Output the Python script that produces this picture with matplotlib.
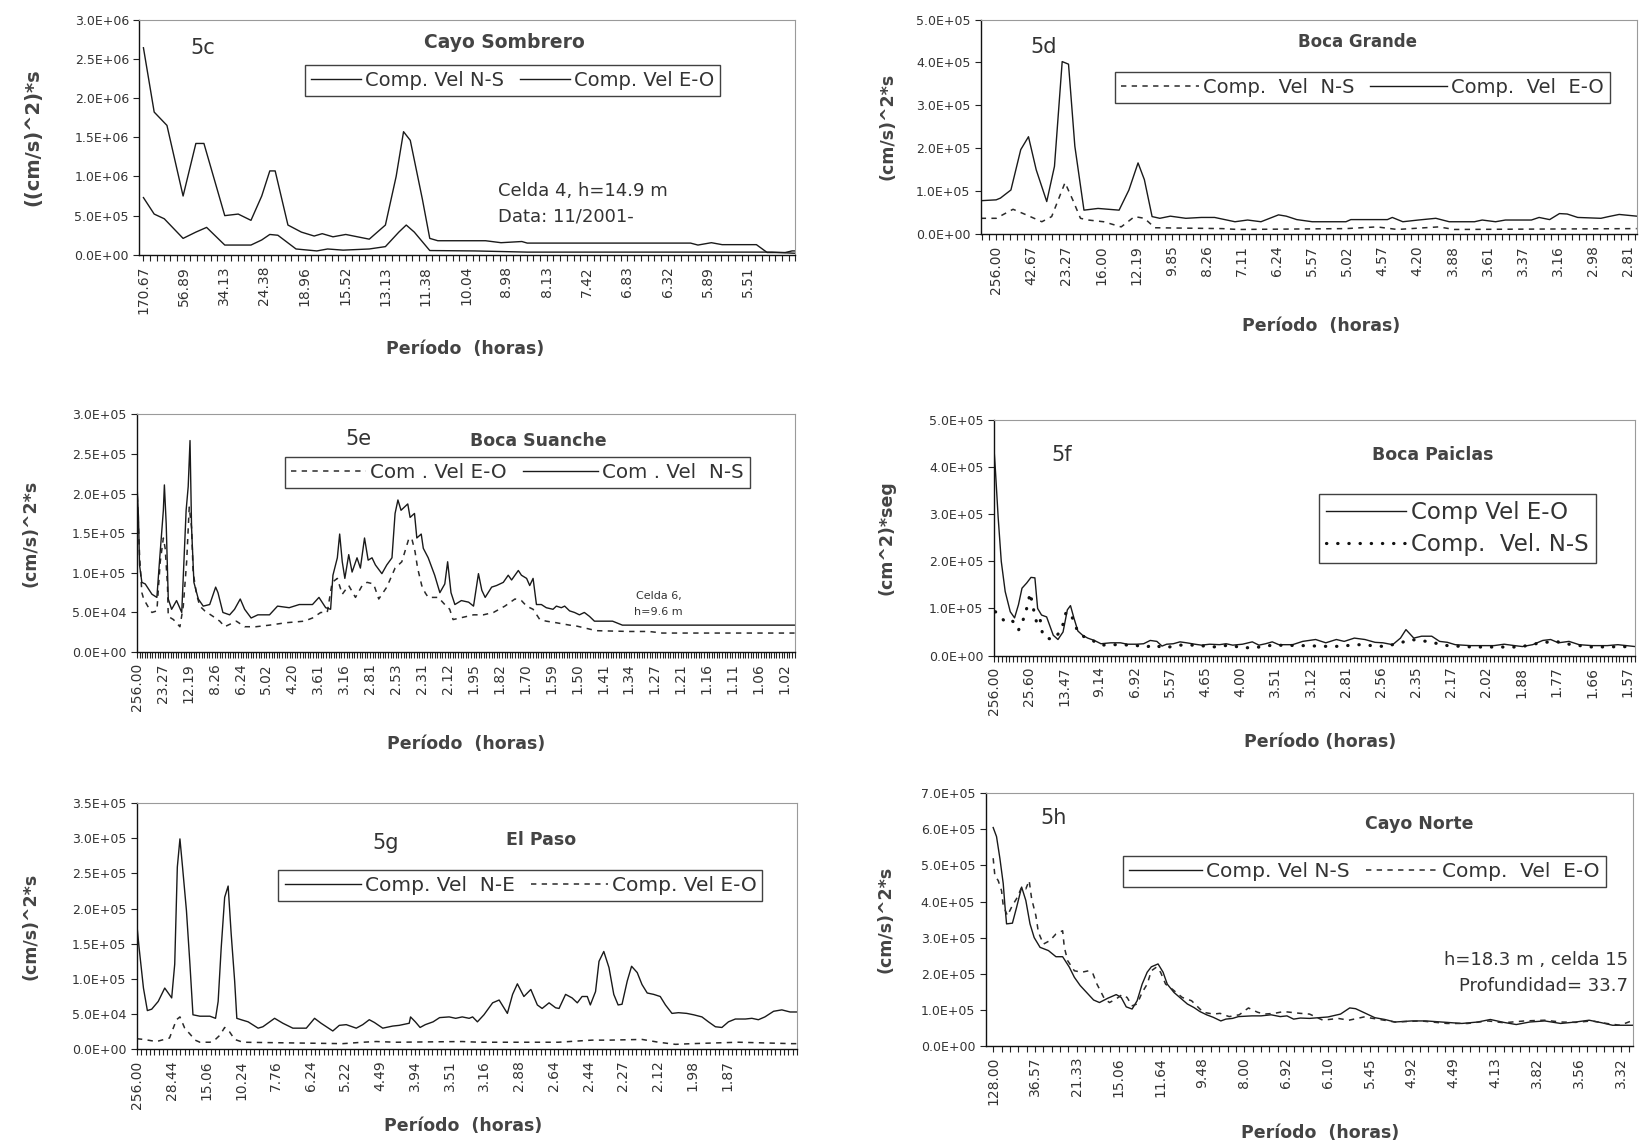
import numpy as np
import matplotlib
matplotlib.use('Agg')
import matplotlib.pyplot as plt
from matplotlib.ticker import MultipleLocator, FixedLocator

plt.rcParams['font.family'] = ['DejaVu Sans']
TXT = '#333333'

# ---------------- 5c  Cayo Sombrero  (values in 1e6, x = harmonic number k)
lab_5c = ['170.67', '56.89', '34.13', '24.38', '18.96', '15.52', '13.13', '11.38',
          '10.04', '8.98', '8.13', '7.42', '6.83', '6.32', '5.89', '5.51']
k_ns_5c = [3, 4.6, 6.5, 8.9, 10.8, 12.0, 15.1, 17.1, 19.0, 20.6, 21.8, 22.6, 24.5, 26.5,
           28.4, 29.6, 31.2, 33.1, 36.6, 39.0, 40.6, 41.7, 42.7, 44.5, 45.6, 46.8, 53.9,
           56.2, 59.3, 60.1, 84.4, 85.5, 87.5, 89.1, 94.2, 95.8, 98.5, 99.5, 100]
v_ns_5c = [2.64, 1.82, 1.65, 0.75, 1.42, 1.42, 0.50, 0.52, 0.44, 0.75, 1.07, 1.07, 0.38, 0.29,
           0.24, 0.27, 0.23, 0.26, 0.20, 0.38, 1.00, 1.57, 1.46, 0.71, 0.21, 0.18, 0.18,
           0.155, 0.17, 0.15, 0.15, 0.125, 0.155, 0.13, 0.13, 0.03, 0.03, 0.05, 0.05]
k_eo_5c = [3, 4.6, 6.1, 8.9, 10.8, 12.4, 15.1, 19.0, 20.6, 21.8, 23.0, 25.7, 28.8, 30.4,
           32.7, 36.6, 39.0, 41.0, 42.1, 43.3, 45.6, 52.3, 60.1, 96.5, 100]
v_eo_5c = [0.73, 0.52, 0.46, 0.21, 0.29, 0.35, 0.125, 0.125, 0.19, 0.26, 0.25, 0.075, 0.05, 0.075,
           0.06, 0.075, 0.105, 0.29, 0.38, 0.29, 0.055, 0.05, 0.035, 0.035, 0.02]

# ---------------- 5d  Boca Grande  (values in 1e5)
lab_5d = ['256.00', '42.67', '23.27', '16.00', '12.19', '9.85', '8.26', '7.11', '6.24', '5.57',
          '5.02', '4.57', '4.20', '3.88', '3.61', '3.37', '3.16', '2.98', '2.81']
k_eo_5d = [-1.2, 1, 1.6, 3.1, 4.5, 5.6, 6.7, 8.2, 9.3, 10.4, 11.3, 12.2, 13.5, 15.5, 18.5, 19.9,
           21.2, 22.1, 23.2, 24.3, 25.8, 28.0, 30.2, 32.1, 35.0, 36.8, 38.7, 41.2, 42.3, 43.8,
           46.0, 50.8, 51.5, 56.7, 57.4, 58.9, 61.1, 63.6, 65.5, 69.1, 70.2, 72.1, 73.5, 77.2,
           78.3, 79.8, 81.2, 82.3, 83.8, 87.1, 88.2, 89.7, 92.2]
v_eo_5d = [0.78, 0.80, 0.84, 1.03, 1.97, 2.27, 1.50, 0.76, 1.58, 4.02, 3.96, 2.05, 0.56, 0.60, 0.56, 1.03,
           1.66, 1.27, 0.41, 0.37, 0.42, 0.37, 0.39, 0.39, 0.29, 0.33, 0.29, 0.45, 0.42, 0.34,
           0.29, 0.29, 0.34, 0.34, 0.39, 0.29, 0.33, 0.37, 0.29, 0.29, 0.33, 0.29, 0.33, 0.33,
           0.39, 0.34, 0.48, 0.47, 0.39, 0.37, 0.41, 0.46, 0.42]
k_ns_5d = [-1.2, 1, 3.4, 5.3, 7.5, 8.9, 10.8, 11.9, 13.0, 14.1, 16.3, 18.8, 20.7, 22.1, 23.6, 33.2,
           35.4, 50.8, 55.2, 58.1, 64.0, 66.2, 92.2]
v_ns_5d = [0.37, 0.37, 0.58, 0.45, 0.29, 0.41, 1.20, 0.80, 0.37, 0.33, 0.29, 0.17, 0.41, 0.37, 0.15, 0.13,
           0.11, 0.13, 0.17, 0.11, 0.17, 0.11, 0.13]

# ---------------- 5e  Boca Suanche  (values in 1e5)
lab_5e = ['256.00', '23.27', '12.19', '8.26', '6.24', '5.02', '4.20', '3.61', '3.16', '2.81',
          '2.53', '2.31', '2.12', '1.95', '1.82', '1.70', '1.59', '1.50', '1.41', '1.34',
          '1.27', '1.21', '1.16', '1.11', '1.06', '1.02']
k_ns_5e = [1, 1.6, 2.0, 2.9, 4.2, 6.8, 8.7, 9.7, 11.2, 11.6, 12.3, 13.1, 14.4, 16.3, 18.3, 20.0,
           20.8, 21.5, 22.1, 23.0, 24.7, 26.6, 29.1, 31.4, 32.3, 34.2, 36.8, 38.7, 40.9, 42.6,
           45.1, 47.7, 52.2, 55.3, 59.8, 63.7, 68.8, 71.3, 73.9, 75.8, 76.7, 78.4, 79.3, 80.3,
           81.3, 82.8, 84.1, 86.0, 87.3, 88.9, 90.3, 91.8, 93.1, 95.6, 97.5, 99.5, 100.7, 101.8,
           103.0, 104.3, 105.6, 106.5, 108.2, 109.1, 110.8, 111.6, 113.5, 116.0, 118.0, 119.9,
           121.0, 122.3, 123.8, 126.3, 129.1, 131.0, 132.9, 134.2, 135.5, 138.0, 139.9, 142.5,
           144.4, 145.7, 148.3, 149.5, 151.5, 152.7, 154.0, 155.3, 157.2, 159.1, 161.7, 163.0,
           164.9, 166.2, 168.1, 170.0, 171.9, 173.8, 175.8, 177.7, 184.7, 188.5, 255]
v_ns_5e = [2.13, 1.70, 1.10, 0.88, 0.86, 0.73, 0.69, 1.14, 1.79, 2.11, 1.62, 0.67, 0.54, 0.65,
           0.50, 1.79, 2.09, 2.67, 1.57, 0.88, 0.67, 0.58, 0.60, 0.82, 0.75, 0.50, 0.47, 0.54,
           0.67, 0.54, 0.43, 0.47, 0.47, 0.58, 0.56, 0.60, 0.60, 0.69, 0.56, 0.54, 0.97, 1.19,
           1.49, 1.14, 0.93, 1.23, 1.01, 1.19, 1.06, 1.44, 1.16, 1.19, 1.10, 0.99, 1.10, 1.19,
           1.75, 1.92, 1.79, 1.83, 1.87, 1.70, 1.75, 1.44, 1.49, 1.31, 1.19, 0.97, 0.75, 0.86,
           1.14, 0.75, 0.60, 0.65, 0.63, 0.58, 0.99, 0.78, 0.69, 0.82, 0.84, 0.88, 0.97, 0.91,
           1.03, 0.97, 0.93, 0.84, 0.93, 0.60, 0.60, 0.56, 0.54, 0.58, 0.56, 0.58, 0.52, 0.50,
           0.47, 0.50, 0.45, 0.39, 0.39, 0.34, 0.34]
k_eo_5e = [1, 1.6, 2.0, 2.9, 3.6, 5.5, 6.8, 8.7, 10.0, 11.2, 11.9, 12.8, 13.1, 15.1, 17.6, 18.9,
           20.2, 21.2, 22.1, 22.7, 24.0, 25.3, 27.2, 30.4, 33.0, 34.9, 39.4, 42.6, 47.0, 52.2,
           58.5, 65.6, 68.8, 72.0, 74.5, 76.4, 78.4, 80.3, 82.8, 85.4, 88.0, 89.9, 92.4, 94.4,
           97.5, 100.7, 103.3, 105.9, 107.1, 108.4, 109.4, 111.0, 112.3, 113.5, 117.4, 119.9,
           121.8, 123.1, 128.4, 131.0, 134.8, 138.7, 143.1, 147.0, 149.5, 151.5, 154.0, 156.6,
           159.1, 163.0, 168.1, 170.6, 175.8, 178.3, 191.1, 198.8, 203.9, 255]
v_eo_5e = [2.10, 1.57, 1.23, 0.75, 0.67, 0.56, 0.50, 0.52, 1.14, 1.44, 1.31, 0.84, 0.45, 0.41,
           0.32, 0.58, 1.14, 1.83, 1.57, 1.01, 0.73, 0.58, 0.52, 0.45, 0.39, 0.32, 0.39, 0.32,
           0.32, 0.34, 0.37, 0.39, 0.43, 0.50, 0.50, 0.88, 0.93, 0.73, 0.84, 0.69, 0.84, 0.88,
           0.86, 0.67, 0.82, 1.06, 1.14, 1.42, 1.44, 1.27, 1.06, 0.84, 0.75, 0.69, 0.69, 0.60,
           0.54, 0.41, 0.45, 0.47, 0.47, 0.50, 0.58, 0.67, 0.65, 0.58, 0.54, 0.41, 0.39, 0.37,
           0.34, 0.33, 0.29, 0.27, 0.26, 0.26, 0.24, 0.24]

# ---------------- 5f  Boca Paiclas  (values in 1e5)
lab_5f = ['256.00', '25.60', '13.47', '9.14', '6.92', '5.57', '4.65', '4.00', '3.51', '3.12',
          '2.81', '2.56', '2.35', '2.17', '2.02', '1.88', '1.77', '1.66', '1.57']
k_eo_5f = [1, 1.4, 2.1, 2.9, 3.9, 5.2, 6.3, 7.3, 8.2, 9.4, 10.5, 11.5, 12.2, 13.2, 14.5, 16.2,
           17.4, 18.7, 19.8, 20.6, 21.5, 22.5, 23.7, 25.0, 26.7, 28.4, 30.9, 33.4, 35.1, 37.6,
           39.3, 41.0, 42.7, 44.0, 45.2, 46.9, 48.6, 50.3, 52.4, 54.1, 56.2, 58.7, 60.4, 62.1,
           64.6, 67.1, 68.8, 70.5, 72.2, 73.9, 77.4, 80.0, 83.3, 85.9, 88.6, 90.6, 93.2, 95.9,
           98.5, 100.5, 103.0, 105.0, 106.4, 108.4, 110.4, 113.0, 115.0, 117.0, 119.0, 122.9,
           128.9, 131.5, 134.2, 136.2, 138.8, 141.4, 143.4, 145.4, 148.1, 150.7, 154.0, 157.9,
           160.6, 165]
v_eo_5f = [4.44, 3.94, 2.94, 2.00, 1.36, 0.93, 0.80, 1.08, 1.43, 1.54, 1.66, 1.65, 1.00, 0.86,
           0.82, 0.43, 0.34, 0.50, 0.97, 1.06, 0.79, 0.52, 0.43, 0.37, 0.32, 0.25, 0.27, 0.27,
           0.24, 0.24, 0.25, 0.32, 0.30, 0.20, 0.24, 0.25, 0.29, 0.27, 0.24, 0.22, 0.24, 0.23,
           0.25, 0.22, 0.24, 0.29, 0.22, 0.25, 0.29, 0.23, 0.23, 0.30, 0.34, 0.27, 0.34, 0.30,
           0.37, 0.34, 0.28, 0.27, 0.23, 0.37, 0.55, 0.37, 0.41, 0.41, 0.30, 0.28, 0.23, 0.21,
           0.21, 0.24, 0.21, 0.19, 0.23, 0.32, 0.34, 0.27, 0.30, 0.23, 0.21, 0.21, 0.23, 0.19]
k_ns_5f = [1.4, 2.3, 3.5, 4.9, 6.5, 7.3, 8.2, 9.4, 10.3, 11.1, 12.0, 12.8, 13.5, 14.5, 16.2, 18.3,
           19.5, 20.8, 22.5, 24.2, 26.7, 28.4, 31.8, 36.8, 40.1, 41.8, 44.4, 48.6, 52.8, 57.0,
           61.3, 64.7, 69.0, 72.3, 80.0, 87.9, 94.5, 101.0, 105.0, 107.7, 111.7, 117.0, 123.6,
           130.2, 135.5, 140.8, 144.7, 148.7, 154.0, 165]
v_ns_5f = [0.93, 0.87, 0.75, 0.79, 0.68, 0.54, 0.68, 1.00, 1.33, 1.00, 0.68, 0.79, 0.43, 0.37,
           0.34, 0.54, 0.93, 0.86, 0.50, 0.39, 0.30, 0.22, 0.23, 0.22, 0.18, 0.23, 0.16, 0.22,
           0.22, 0.18, 0.22, 0.16, 0.18, 0.22, 0.21, 0.19, 0.23, 0.19, 0.27, 0.34, 0.30, 0.21,
           0.18, 0.18, 0.18, 0.27, 0.30, 0.23, 0.18, 0.19]

# ---------------- 5g  El Paso  (values in 1e5)
lab_5g = ['256.00', '28.44', '15.06', '10.24', '7.76', '6.24', '5.22', '4.49', '3.94', '3.51',
          '3.16', '2.88', '2.64', '2.44', '2.27', '2.12', '1.98', '1.87']
k_ne_5g = [1, 1.5, 2.5, 3.4, 4.4, 5.9, 7.4, 9.0, 9.7, 10.3, 10.9, 11.5, 12.4, 13.2, 13.9, 15.5,
           17.8, 19.1, 19.7, 20.4, 21.2, 22.0, 22.7, 23.5, 24.0, 25.0, 26.6, 28.9, 30.0, 32.7,
           34.6, 36.9, 40.0, 41.9, 43.4, 46.1, 47.6, 49.2, 51.5, 53.0, 54.5, 55.7, 57.6, 59.9,
           61.4, 63.7, 64.0, 65.1, 66.2, 67.4, 69.2, 70.7, 72.9, 74.4, 75.9, 77.5, 78.3, 79.4,
           80.9, 82.9, 84.4, 86.3, 87.5, 88.6, 90.1, 91.7, 93.2, 94.3, 95.9, 97.4, 98.2, 99.7,
           101.2, 102.4, 103.5, 104.7, 105.4, 106.6, 107.4, 108.5, 109.7, 110.8, 111.8, 112.7,
           113.9, 114.9, 116.2, 117.3, 118.5, 120.0, 121.5, 122.7, 124.2, 125.7, 127.6, 129.2,
           131.1, 132.6, 134.2, 135.7, 137.2, 138.8, 141.1, 142.6, 144.1, 145.6, 147.6, 149.5,
           151.4, 153]
v_ne_5g = [1.76, 1.44, 0.87, 0.55, 0.57, 0.68, 0.87, 0.73, 1.21, 2.59, 2.99, 2.59, 1.97, 1.21,
           0.49, 0.47, 0.47, 0.44, 0.68, 1.44, 2.16, 2.32, 1.64, 0.97, 0.44, 0.42, 0.39, 0.30,
           0.32, 0.44, 0.37, 0.30, 0.30, 0.44, 0.37, 0.26, 0.34, 0.35, 0.30, 0.35, 0.42, 0.38,
           0.30, 0.33, 0.34, 0.37, 0.46, 0.39, 0.31, 0.35, 0.39, 0.45, 0.46, 0.44, 0.46, 0.44,
           0.46, 0.39, 0.49, 0.66, 0.70, 0.51, 0.78, 0.93, 0.75, 0.85, 0.63, 0.58, 0.66, 0.59,
           0.58, 0.78, 0.73, 0.66, 0.75, 0.75, 0.63, 0.82, 1.25, 1.39, 1.16, 0.78, 0.63, 0.64,
           0.97, 1.18, 1.09, 0.92, 0.80, 0.78, 0.75, 0.63, 0.51, 0.52, 0.51, 0.49, 0.46, 0.39,
           0.32, 0.31, 0.39, 0.43, 0.43, 0.44, 0.42, 0.46, 0.54, 0.56, 0.53, 0.53]
k_eo_5g = [1, 2.5, 5.5, 8.5, 10.1, 10.9, 12.0, 13.3, 14.4, 15.5, 17.8, 18.9, 20.1, 21.2, 22.3,
           23.5, 25.4, 48.4, 53.0, 56.1, 60.7, 75.9, 79.8, 98.0, 105.8, 109.7, 117.3, 121.1,
           125.0, 128.8, 139.5, 151.8, 153]
v_eo_5g = [0.15, 0.14, 0.11, 0.16, 0.42, 0.46, 0.30, 0.21, 0.13, 0.10, 0.10, 0.13, 0.20, 0.31,
           0.25, 0.14, 0.10, 0.08, 0.10, 0.11, 0.10, 0.11, 0.10, 0.10, 0.13, 0.13, 0.14, 0.10,
           0.07, 0.08, 0.10, 0.08, 0.08]

# ---------------- 5h  Cayo Norte  (values in 1e5)
lab_5h = ['128.00', '36.57', '21.33', '15.06', '11.64', '9.48', '8.00', '6.92', '6.10', '5.45',
          '4.92', '4.49', '4.13', '3.82', '3.56', '3.32']
k_ns_5h = [2, 2.4, 2.8, 3.2, 3.4, 3.6, 4.3, 4.8, 5.4, 5.9, 6.4, 6.9, 7.6, 8.6, 9.5, 10.3, 11.1,
           11.7, 12.4, 13.4, 14.0, 14.7, 15.7, 16.7, 17.3, 17.9, 18.6, 19.2, 19.8, 20.4, 20.9,
           21.7, 22.3, 22.8, 23.6, 24.4, 25.2, 26.0, 26.7, 27.5, 28.3, 29.2, 29.8, 30.6, 31.3,
           32.9, 34.0, 35.2, 36.3, 37.1, 37.9, 38.7, 39.8, 42.0, 43.5, 44.6, 45.3, 46.5, 47.6,
           48.8, 50.0, 52.0, 53.7, 56.2, 58.0, 59.9, 61.4, 63.0, 64.5, 66.1, 67.9, 69.8, 71.6,
           73.2, 74.7, 76.0, 78.5]
v_ns_5h = [6.05, 5.8, 5.2, 4.5, 3.9, 3.38, 3.40, 3.84, 4.40, 4.03, 3.38, 3.00, 2.73, 2.64, 2.47,
           2.47, 2.18, 1.90, 1.67, 1.42, 1.27, 1.20, 1.32, 1.42, 1.34, 1.08, 1.02, 1.25, 1.71,
           2.04, 2.19, 2.27, 2.04, 1.71, 1.48, 1.32, 1.16, 1.06, 0.95, 0.86, 0.79, 0.69, 0.74,
           0.76, 0.81, 0.83, 0.83, 0.86, 0.81, 0.83, 0.74, 0.77, 0.76, 0.80, 0.88, 1.05, 1.03,
           0.90, 0.78, 0.73, 0.66, 0.69, 0.69, 0.65, 0.62, 0.66, 0.73, 0.65, 0.59, 0.66, 0.69,
           0.62, 0.66, 0.71, 0.64, 0.57, 0.57]
k_eo_5h = [2.0, 2.2, 2.6, 3.0, 3.2, 3.7, 4.3, 4.9, 5.4, 5.9, 6.3, 6.6, 7.1, 7.4, 8.0, 8.8, 9.5, 10.3,
           10.5, 10.9, 11.7, 12.6, 13.4, 13.9, 14.4, 14.8, 15.3, 15.9, 16.7, 17.4, 18.0, 18.6,
           19.2, 19.8, 20.4, 20.9, 21.5, 22.0, 22.6, 23.4, 24.6, 25.7, 27.1, 28.3, 29.1, 30.2,
           31.4, 32.5, 33.6, 34.4, 35.6, 36.7, 37.5, 38.7, 39.8, 41.4, 43.2, 44.5, 46.3, 48.2,
           50.0, 53.1, 56.2, 58.7, 61.1, 63.0, 65.5, 67.9, 69.8, 71.6, 73.5, 75.3, 76.9, 78.5]
v_eo_5h = [5.2, 4.72, 4.58, 4.30, 3.89, 3.61, 3.89, 4.12, 4.40, 4.35, 4.58, 4.07, 3.61, 3.15, 2.82,
           2.92, 3.10, 3.19, 2.73, 2.36, 2.08, 2.04, 2.08, 2.01, 1.71, 1.53, 1.30, 1.20, 1.30,
           1.42, 1.34, 1.11, 1.16, 1.48, 1.71, 2.08, 2.18, 2.04, 1.71, 1.57, 1.34, 1.25, 0.93,
           0.88, 0.90, 0.81, 0.86, 1.05, 0.93, 0.88, 0.90, 0.95, 0.93, 0.90, 0.88, 0.71, 0.76,
           0.71, 0.80, 0.73, 0.66, 0.69, 0.62, 0.62, 0.69, 0.64, 0.69, 0.71, 0.66, 0.65, 0.69,
           0.62, 0.57, 0.71]

SOLID = dict(color='#1a1a1a', lw=1.0, ls='-')
DASH = dict(color='#2a2a2a', lw=1.1, ls=(0, (3.5, 3.5)))
DOT = dict(color='#111111', lw=2.3, ls=(0, (0.1, 3.4)), dash_capstyle='round')


def panel(fig, rect, kmin, kmax, tstart, tstep, labels, ymax, ystep, scale, series,
          leg_xy, ncol, leg_fs, leg_hl, tag, tag_xy, title, title_xy, title_fs,
          ylabel, ylab_x, ylab_fs, xlabel, xlab_xy):
    ax = fig.add_axes(rect)
    for k, v, style, name in series:
        ax.plot(k, np.array(v) * scale, label=name, **style)
    ax.set_xlim(kmin, kmax)
    ax.set_ylim(0, ymax)
    ax.xaxis.set_major_locator(FixedLocator(list(range(tstart, tstart + tstep * len(labels), tstep))))
    ax.set_xticklabels(labels, rotation=90, fontsize=10, color=TXT)
    ax.xaxis.set_minor_locator(MultipleLocator(1))
    ax.tick_params(axis='x', which='both', direction='out', length=4, width=0.8, color='#222', pad=4)
    yt = np.arange(0, ymax + ystep / 2, ystep)
    ax.set_yticks(yt)
    ax.set_yticklabels(['{:.1E}'.format(t) for t in yt], fontsize=9, color=TXT)
    ax.tick_params(axis='y', direction='out', length=4, width=0.8, color='#222')
    for s in ['left', 'bottom']:
        ax.spines[s].set_color('#111')
        ax.spines[s].set_linewidth(1.0)
    for s in ['top', 'right']:
        ax.spines[s].set_color('#9a9a9a')
        ax.spines[s].set_linewidth(0.8)
    leg = ax.legend(loc='center', bbox_to_anchor=leg_xy, ncol=ncol, fontsize=leg_fs,
                    frameon=True, fancybox=False, edgecolor='#111', handlelength=leg_hl,
                    handletextpad=0.2, columnspacing=0.8, borderpad=0.3, labelspacing=0.4)
    leg.get_frame().set_linewidth(1.0)
    for t in leg.get_texts():
        t.set_color(TXT)
    ax.text(tag_xy[0], tag_xy[1], tag, transform=ax.transAxes, fontsize=15, color=TXT,
            ha='center', va='center')
    ax.text(title_xy[0], title_xy[1], title, transform=ax.transAxes, fontsize=title_fs,
            fontweight='bold', color='#444', ha='center', va='center')
    ax.set_ylabel(ylabel, fontsize=ylab_fs, fontweight='bold', color='#444')
    ax.yaxis.set_label_coords(ylab_x, 0.5)
    ax.set_xlabel(xlabel, fontsize=12.5, fontweight='bold', color='#444')
    ax.xaxis.set_label_coords(xlab_xy[0], xlab_xy[1])
    return ax


fig = plt.figure(figsize=(16.4, 11.48), dpi=100)

ax = panel(fig, [0.085, 0.778, 0.400, 0.205], 2.4, 100, 3, 6, lab_5c, 3.0e6, 0.5e6, 1e6,
           [(k_ns_5c, v_ns_5c, SOLID, 'Comp. Vel N-S'), (k_eo_5c, v_eo_5c, SOLID, 'Comp. Vel E-O')],
           (0.569, 0.741), 2, 14, 2.6, '5c', (0.096, 0.881), 'Cayo Sombrero', (0.556, 0.903), 13.5,
           '((cm/s)^2)*s', -0.148, 14, 'Período  (horas)', (0.497, -0.36))
ax.text(0.546, 0.271, 'Celda 4, h=14.9 m', transform=ax.transAxes, fontsize=13, color=TXT, va='center')
ax.text(0.546, 0.163, 'Data: 11/2001-', transform=ax.transAxes, fontsize=13, color=TXT, va='center')

panel(fig, [0.598, 0.796, 0.400, 0.187], -1.2, 92.2, 1, 5, lab_5d, 5.0e5, 1.0e5, 1e5,
      [(k_ns_5d, v_ns_5d, DASH, 'Comp.  Vel  N-S'), (k_eo_5d, v_eo_5d, SOLID, 'Comp.  Vel  E-O')],
      (0.582, 0.684), 2, 14, 4.0, '5d', (0.096, 0.870), 'Boca Grande', (0.575, 0.893), 12,
      '(cm/s)^2*s', -0.129, 12.5, 'Período  (horas)', (0.519, -0.386))

ax = panel(fig, [0.0835, 0.432, 0.401, 0.207], 1, 255, 1, 10, lab_5e, 3.0e5, 0.5e5, 1e5,
           [(k_eo_5e, v_eo_5e, DASH, 'Com . Vel E-O'), (k_ns_5e, v_ns_5e, SOLID, 'Com . Vel  N-S')],
           (0.578, 0.754), 2, 14.3, 3.8, '5e', (0.337, 0.895), 'Boca Suanche', (0.611, 0.89), 12.5,
           '(cm/s)^2*s', -0.148, 12.5, 'Período  (horas)', (0.5, -0.35))
ax.text(0.793, 0.235, 'Celda 6,', transform=ax.transAxes, fontsize=8, color=TXT, ha='center', va='center')
ax.text(0.793, 0.168, 'h=9.6 m', transform=ax.transAxes, fontsize=8, color=TXT, ha='center', va='center')

panel(fig, [0.606, 0.429, 0.391, 0.205], 1, 165, 1, 9, lab_5f, 5.0e5, 1.0e5, 1e5,
      [(k_eo_5f, v_eo_5f, SOLID, 'Comp Vel E-O'), (k_ns_5f, v_ns_5f, DOT, 'Comp.  Vel. N-S')],
      (0.723, 0.540), 1, 16.5, 3.5, '5f', (0.106, 0.852), 'Boca Paiclas', (0.685, 0.852), 12.5,
      '(cm^2)*seg', -0.154, 12.5, 'Período (horas)', (0.509, -0.33))

panel(fig, [0.0835, 0.086, 0.4025, 0.2145], 1, 153, 1, 8, lab_5g, 3.5e5, 0.5e5, 1e5,
      [(k_ne_5g, v_ne_5g, SOLID, 'Comp. Vel  N-E'), (k_eo_5g, v_eo_5g, DASH, 'Comp. Vel E-O')],
      (0.581, 0.665), 2, 14.5, 3.8, '5g', (0.376, 0.837), 'El Paso', (0.612, 0.85), 12.5,
      '(cm/s)^2*s', -0.148, 12.5, 'Período  (horas)', (0.494, -0.277))

ax = panel(fig, [0.601, 0.089, 0.395, 0.220], 1.1, 78.5, 2, 5, lab_5h, 7.0e5, 1.0e5, 1e5,
           [(k_ns_5h, v_ns_5h, SOLID, 'Comp. Vel N-S'), (k_eo_5h, v_eo_5h, DASH, 'Comp.  Vel  E-O')],
           (0.585, 0.690), 2, 14.5, 3.6, '5h', (0.105, 0.901), 'Cayo Norte', (0.670, 0.877), 12.5,
           '(cm/s)^2*s', -0.14, 12.5, 'Período  (horas)', (0.517, -0.31))
ax.text(0.992, 0.34, 'h=18.3 m , celda 15', transform=ax.transAxes, fontsize=13, color=TXT,
        ha='right', va='center')
ax.text(0.992, 0.237, 'Profundidad= 33.7', transform=ax.transAxes, fontsize=13, color=TXT,
        ha='right', va='center')

fig.savefig('out.png', dpi=100)
